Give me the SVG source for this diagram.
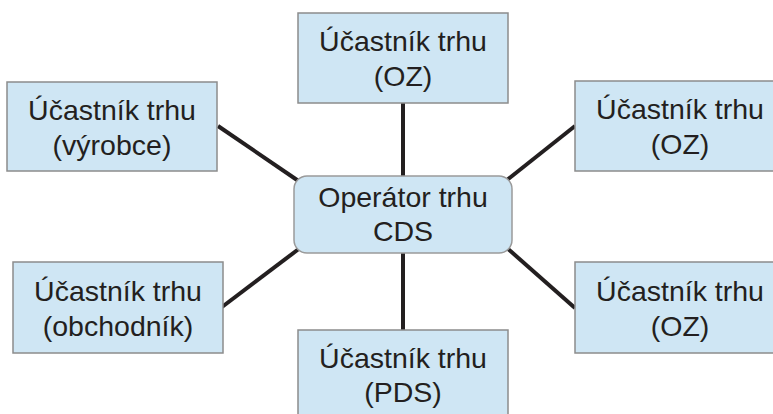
<svg xmlns="http://www.w3.org/2000/svg" width="773" height="414" viewBox="0 0 773 414">
<style>
.box{fill:#cfe6f4;stroke:#8c8c8c;stroke-width:1.5}
.t{font-family:"Liberation Sans",Arial,sans-serif;font-size:28.5px;fill:#231f20;text-anchor:middle}
.c{stroke:#231f20;stroke-width:4;fill:none;stroke-linecap:butt}
</style>
<rect width="773" height="414" fill="#ffffff"/>
<g id="connectors">
<line class="c" x1="403" y1="103" x2="403" y2="177"/>
<line class="c" x1="403" y1="252" x2="403" y2="331"/>
<line class="c" x1="218" y1="126" x2="300" y2="182"/>
<line class="c" x1="575" y1="126" x2="507" y2="180"/>
<line class="c" x1="222" y1="307" x2="300" y2="248"/>
<line class="c" x1="507" y1="248" x2="575" y2="308"/>
</g>
<g id="n-top">
<rect class="box" x="298" y="13" width="210" height="90"/>
<text class="t" x="403" y="51">Účastník trhu</text>
<text class="t" x="403" y="86">(OZ)</text>
</g>
<g id="n-left-top">
<rect class="box" x="7" y="82" width="210" height="89"/>
<text class="t" x="112" y="120">Účastník trhu</text>
<text class="t" x="112" y="155">(výrobce)</text>
</g>
<g id="n-right-top">
<rect class="box" x="575" y="81" width="210" height="90"/>
<text class="t" x="680" y="119">Účastník trhu</text>
<text class="t" x="680" y="154">(OZ)</text>
</g>
<g id="n-center">
<rect class="box" x="294" y="176" width="218" height="77" rx="13" ry="13" style="stroke:#9a9a9a"/>
<text class="t" x="403" y="207">Operátor trhu</text>
<text class="t" x="403" y="241">CDS</text>
</g>
<g id="n-left-bottom">
<rect class="box" x="13" y="262" width="210" height="91"/>
<text class="t" x="118" y="301">Účastník trhu</text>
<text class="t" x="118" y="336">(obchodník)</text>
</g>
<g id="n-right-bottom">
<rect class="box" x="575" y="262" width="210" height="91"/>
<text class="t" x="680" y="301">Účastník trhu</text>
<text class="t" x="680" y="336">(OZ)</text>
</g>
<g id="n-bottom">
<rect class="box" x="298" y="330" width="210" height="92"/>
<text class="t" x="403" y="368">Účastník trhu</text>
<text class="t" x="403" y="402">(PDS)</text>
</g>
</svg>
